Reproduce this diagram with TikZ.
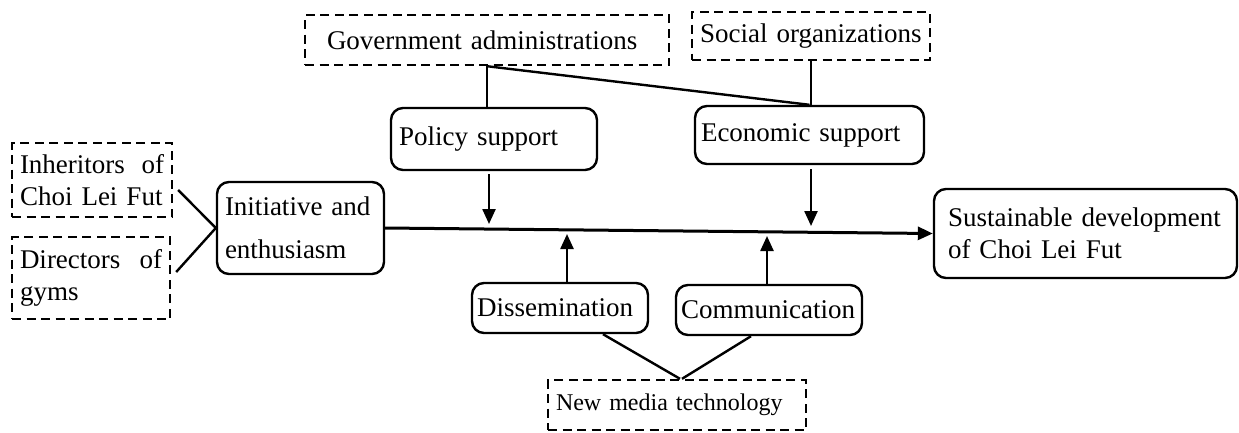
\documentclass[tikz,border=0pt]{standalone}
\usepackage{fontspec}
\setmainfont{Liberation Serif}
\usetikzlibrary{arrows.meta}

\tikzset{every picture/.style={line width=2.4pt}}
\tikzset{
  rbox/.style={draw, rounded corners=12pt, inner xsep=8pt, inner ysep=0pt, align=left,
    font=\fontsize{27}{32}\selectfont},
  dbox/.style={draw, dash pattern=on 9pt off 5.5pt, inner xsep=8pt, inner ysep=0pt, align=left,
    font=\fontsize{27}{32}\selectfont},
  arr/.style={-{Triangle[length=15pt,width=13pt]}}
}

\begin{document}
\begin{tikzpicture}[x=1pt,y=1pt,yscale=-1,xscale=1]
\useasboundingbox (0,0) rectangle (1239,432);

% Boxes
\node [dbox, inner xsep=22pt, text width=320pt, minimum height=50pt] (govt) at (487,40) {Government administrations};
\node [dbox, text width=222pt, minimum height=48pt] (social) at (811,36) {Social organizations};
\node [rbox, text width=190pt, minimum height=62pt] (policy) at (494,139) {Policy support};
\node [rbox, inner xsep=6pt, text width=217pt, minimum height=58pt] (econ) at (809.5,135) {Economic support};
\node [dbox, text width=144pt, minimum height=74pt] (inher) at (92,180) {Inheritors\hfill of\\Choi Lei Fut};
\node [dbox, text width=142pt, minimum height=82pt] (direct) at (91,278) {Directors\hfill of\\gyms};
\node [rbox, text width=151pt, minimum height=92pt, font=\fontsize{27}{43}\selectfont] (init) at (300.5,228) {Initiative and\\enthusiasm};
\node [rbox, inner xsep=14pt, text width=275pt, minimum height=89pt] (sust) at (1085.5,233.5) {Sustainable development\\of Choi Lei Fut};
\node [rbox, inner xsep=5pt, text width=166pt, minimum height=50pt] (diss) at (560,308) {Dissemination};
\node [rbox, inner xsep=5pt, text width=176pt, minimum height=50pt] (comm) at (769,310) {Communication};
\node [dbox, text width=242pt, minimum height=50pt, font=\fontsize{24}{28}\selectfont] (media) at (677,405) {New media technology};

% Arrow tips on the main line
\coordinate (tp) at (489,224);
\coordinate (te) at (811,226);
\coordinate (td) at (567,234);
\coordinate (tc) at (767,236);

%Straight Lines
\draw (govt.south) -- (govt.south |- policy.north);
\draw (govt.south) -- (econ.north);
\draw (social.south) -- (social.south |- econ.north);
\draw (inher.east) ++(5,10) -- (init.west);
\draw (direct.east) ++(5,-6) -- (init.west);
\draw (diss.south) ++(43,0) -- ([xshift=3pt]media.north);
\draw (comm.south) ++(-18,0) -- ([xshift=5pt]media.north);

%Arrows
\draw [arr, line width=3pt] (init.east) -- (sust.west);
\draw [arr] (policy.south -| tp) ++(0,3) -- (tp);
\draw [arr] (econ.south -| te) ++(0,4) -- (te);
\draw [arr] (diss.north -| td) -- (td);
\draw [arr] (comm.north -| tc) -- (tc);

\end{tikzpicture}
\end{document}
